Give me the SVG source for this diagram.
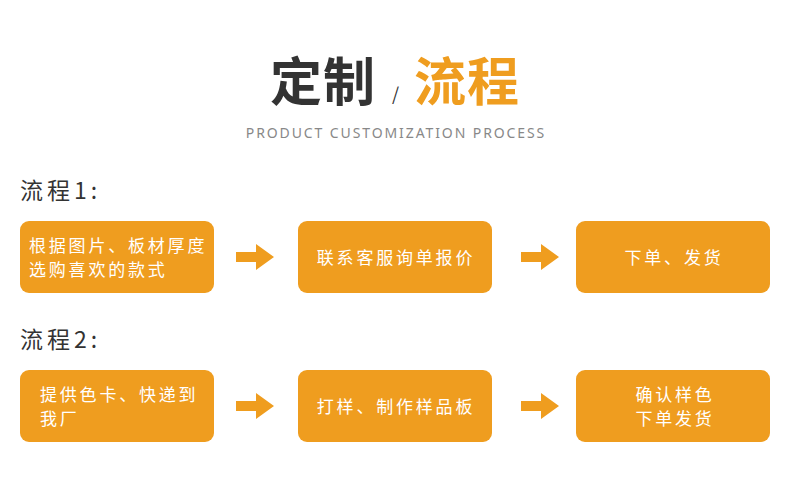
<svg xmlns="http://www.w3.org/2000/svg" width="790" height="496" viewBox="0 0 790 496">
<style>
.box{fill:#EF9D1F}
.bt{fill:#fff;font-family:"Noto Sans CJK SC","Noto Sans",sans-serif;font-size:17px;letter-spacing:2.8px}
.lab{fill:#333;font-family:"Noto Sans CJK SC","Noto Sans",sans-serif;font-size:23px;letter-spacing:4px}
.arr{fill:#EF9D1F}
</style>
<defs>
<path id="ar" d="M0,-5 H20 V-13 L38,0 L20,13 V5 H0 Z"/>
</defs>
<rect width="790" height="496" fill="#fff"/>
<g id="title">
<text x="270" y="101" font-family="Noto Sans CJK SC,sans-serif" font-size="52" font-weight="bold" fill="#333" letter-spacing="1">定制</text>
<text x="392" y="101" font-family="Noto Sans CJK SC,sans-serif" font-size="18" fill="#333">/</text>
<text x="414" y="101" font-family="Noto Sans CJK SC,sans-serif" font-size="52" font-weight="bold" fill="#EF9D1F" letter-spacing="1">流程</text>
<text x="396" y="138" text-anchor="middle" font-family="Noto Sans,sans-serif" font-size="14" letter-spacing="1.9" fill="#888">PRODUCT CUSTOMIZATION PROCESS</text>
</g>
<g id="label1"><text class="lab" x="20" y="199">流程1:</text></g>
<g id="label2"><text class="lab" x="20" y="348">流程2:</text></g>
<g id="n1"><rect class="box" x="20" y="221" width="194" height="72" rx="9"/>
<text class="bt" x="29" y="252">根据图片、板材厚度</text>
<text class="bt" x="29" y="276">选购喜欢的款式</text></g>
<g id="n2"><rect class="box" x="298" y="221" width="194" height="72" rx="9"/>
<text class="bt" x="396" y="264" text-anchor="middle">联系客服询单报价</text></g>
<g id="n3"><rect class="box" x="576" y="221" width="194" height="72" rx="9"/>
<text class="bt" x="674" y="264" text-anchor="middle">下单、发货</text></g>
<g id="n4"><rect class="box" x="20" y="370" width="194" height="72" rx="9"/>
<text class="bt" x="40" y="401">提供色卡、快递到</text>
<text class="bt" x="40" y="425">我厂</text></g>
<g id="n5"><rect class="box" x="298" y="370" width="194" height="72" rx="9"/>
<text class="bt" x="396" y="413" text-anchor="middle">打样、制作样品板</text></g>
<g id="n6"><rect class="box" x="576" y="370" width="194" height="72" rx="9"/>
<text class="bt" x="675" y="401" text-anchor="middle">确认样色</text>
<text class="bt" x="675" y="425" text-anchor="middle">下单发货</text></g>
<g id="connectors">
<use href="#ar" class="arr" x="236" y="257"/>
<use href="#ar" class="arr" x="521" y="257"/>
<use href="#ar" class="arr" x="236" y="406"/>
<use href="#ar" class="arr" x="521" y="406"/>
</g>
</svg>
